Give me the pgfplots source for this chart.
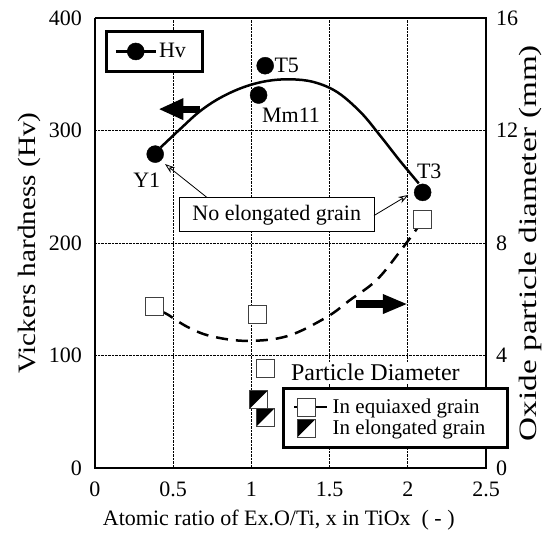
\documentclass[border=0pt]{standalone}
\usepackage{pgfplots}
\pgfplotsset{compat=1.18}
\usepackage{fontspec}
\setmainfont{Liberation Serif}
\usepackage{graphicx}
\usetikzlibrary{arrows.meta}

\pgfdeclareplotmark{halfsq}{%
  \pgfsetfillcolor{white}%
  \pgfpathrectangle{\pgfqpoint{-\pgfplotmarksize}{-\pgfplotmarksize}}{\pgfqpoint{2\pgfplotmarksize}{2\pgfplotmarksize}}%
  \pgfusepathqfill
  \pgfsetfillcolor{black}%
  \pgfpathmoveto{\pgfqpoint{-\pgfplotmarksize}{\pgfplotmarksize}}%
  \pgfpathlineto{\pgfqpoint{\pgfplotmarksize}{\pgfplotmarksize}}%
  \pgfpathlineto{\pgfqpoint{-\pgfplotmarksize}{-\pgfplotmarksize}}%
  \pgfpathclose
  \pgfusepathqfill
  \pgfpathrectangle{\pgfqpoint{-\pgfplotmarksize}{-\pgfplotmarksize}}{\pgfqpoint{2\pgfplotmarksize}{2\pgfplotmarksize}}%
  \pgfusepathqstroke
}
\newcommand{\fs}{\fontsize{22}{26}\selectfont}
\newcommand{\fl}{\fontsize{25}{29}\selectfont}

\begin{document}
\begin{tikzpicture}
\useasboundingbox (-95pt,-74pt) rectangle (459pt,468pt);
\begin{axis}[
  at={(0pt,0pt)}, anchor=south west,
  scale only axis, width=391pt, height=450pt,
  xmin=0, xmax=2.5, ymin=0, ymax=400,
  xtick={0,0.5,1,1.5,2,2.5}, ytick={0,100,200,300,400},
  axis y line*=left,
  axis line style={line width=1.3pt},
  major tick length=0pt,
  grid=major,
  major grid style={densely dotted, line width=1pt, black},
  /pgf/number format/assume math mode=true,
  xticklabel style={font=\fs, inner sep=0pt, yshift=-14pt},
  yticklabel style={font=\fs, inner sep=0pt, xshift=-13pt},
  xlabel={Atomic ratio of Ex.O/Ti, x in TiOx\ \ ( - )},
  ylabel={\scalebox{1.17}[1]{Vickers hardness (Hv)}},
  xlabel style={font=\fs, at={(axis description cs:0.47,-0.1156)}, anchor=center},
  ylabel style={font=\fl, at={(axis description cs:-0.168,0.5)}, anchor=center},
  legend style={at={(axis description cs:0.0256,0.9733)}, anchor=north west,
    draw=black, line width=3pt, fill=white, font=\fs, inner xsep=8pt, inner ysep=10pt},
  legend image code/.code={%
    \draw[line width=2.5pt] (0pt,0pt) -- (40pt,0pt);
    \draw[draw=none] plot[mark=*, mark size=8.5pt, mark options={fill=black, draw=black, line width=0.5pt}] coordinates {(20pt,0pt)};
  },
]
\addplot[line width=2.5pt, smooth, tension=0.6, forget plot] coordinates {
 (0.42,285) (0.55,302) (0.67,317) (0.8,329) (0.95,338.5) (1.1,344) (1.25,345.5)
 (1.4,343) (1.55,334) (1.7,316) (1.82,296) (1.95,273) (2.07,253)};
\addplot[only marks, mark=*, mark size=8.5pt, black] coordinates {
 (0.385,279) (1.046,331.5) (1.088,357.6) (2.095,245)};
\addlegendentry{\makebox[33pt][l]{Hv}}
\addplot[line width=7pt, -{Triangle[length=25pt,width=20pt]}, forget plot] coordinates {(0.67,319) (0.405,319)};
\node[font=\fs] at (axis cs:0.331,256) {Y1};
\node[font=\fs] at (axis cs:1.226,358) {T5};
\node[font=\fs, anchor=west, inner sep=0pt] at (axis cs:1.067,314) {Mm11};
\node[font=\fs] at (axis cs:2.137,264) {T3};
\node[draw=black, line width=1pt, fill=white, font=\fs, minimum width=195pt, minimum height=34pt] at (axis cs:1.162,225) {No elongated grain};
\draw[line width=0.8pt, -{Stealth[open, length=10pt, width=7pt]}] (axis cs:0.7175,240.3) -- (axis cs:0.4476,270.2);
\draw[line width=0.8pt, -{Stealth[open, length=10pt, width=7pt]}] (axis cs:1.784,224.4) -- (axis cs:2.003,242.7);
\end{axis}

\begin{axis}[
  at={(0pt,0pt)}, anchor=south west,
  scale only axis, width=391pt, height=450pt,
  xmin=0, xmax=2.5, ymin=0, ymax=16,
  ytick={0,4,8,12,16},
  axis y line*=right, axis x line=none,
  axis line style={line width=1.3pt},
  major tick length=0pt,
  /pgf/number format/assume math mode=true,
  yticklabel style={font=\fs, inner sep=0pt, xshift=10pt},
  ylabel={\scalebox{1.33}[1]{Oxide particle diameter (mm)}},
  ylabel style={font=\fl, at={(axis description cs:1.1125,0.5)}, anchor=center},
  legend style={at={(axis description cs:0.4775,0.1807)}, anchor=north west,
    draw=black, line width=3pt, fill=white, font=\fontsize{21}{25}\selectfont,
    inner xsep=10pt, inner ysep=9pt, row sep=1pt},
  legend cell align=left,
]
\addplot[line width=2.5pt, smooth, tension=0.6, dash pattern=on 12pt off 8pt, forget plot] coordinates {
 (0.43,5.55) (0.47,5.44) (0.59,5.02) (0.74,4.69) (0.97,4.52) (1.23,4.69) (1.48,5.36)
 (1.63,5.97) (1.80,6.68) (1.95,7.7) (2.07,8.6)};
\addplot[only marks, mark=square*, mark size=9pt, mark options={fill=white, draw=black!75, line width=1pt},
  legend image code/.code={%
    \draw[line width=2.5pt] (0pt,0pt) -- (33pt,0pt);
    \draw[draw=none] plot[mark=square*, mark size=9pt, mark options={fill=white, draw=black!75, line width=1pt}] coordinates {(12pt,0pt)};
  }] coordinates {(0.38,5.76) (1.04,5.46) (1.09,3.54) (2.095,8.84)};
\addlegendentry{\makebox[165pt][l]{\hspace{2pt}In equiaxed grain}}
\addplot[only marks, mark=halfsq, mark size=9pt, mark options={draw=black!75, line width=1pt},
  legend image code/.code={%
    \draw[draw=none] (0pt,0pt) -- (33pt,0pt);
    \draw[draw=none] plot[mark=halfsq, mark size=9pt, mark options={draw=black!75, line width=1pt}] coordinates {(12pt,0pt)};
  }] coordinates {(1.045,2.42) (1.09,1.8)};
\addlegendentry{\makebox[165pt][l]{\hspace{2pt}In elongated grain}}
\addplot[line width=8pt, -{Triangle[length=25pt,width=18pt]}, forget plot] coordinates {(1.67,5.83) (2.0,5.83)};
\node[fill=white, font=\fontsize{24}{28}\selectfont, inner sep=2pt] at (axis cs:1.793,3.41) {Particle Diameter};
\end{axis}
\end{tikzpicture}
\end{document}
